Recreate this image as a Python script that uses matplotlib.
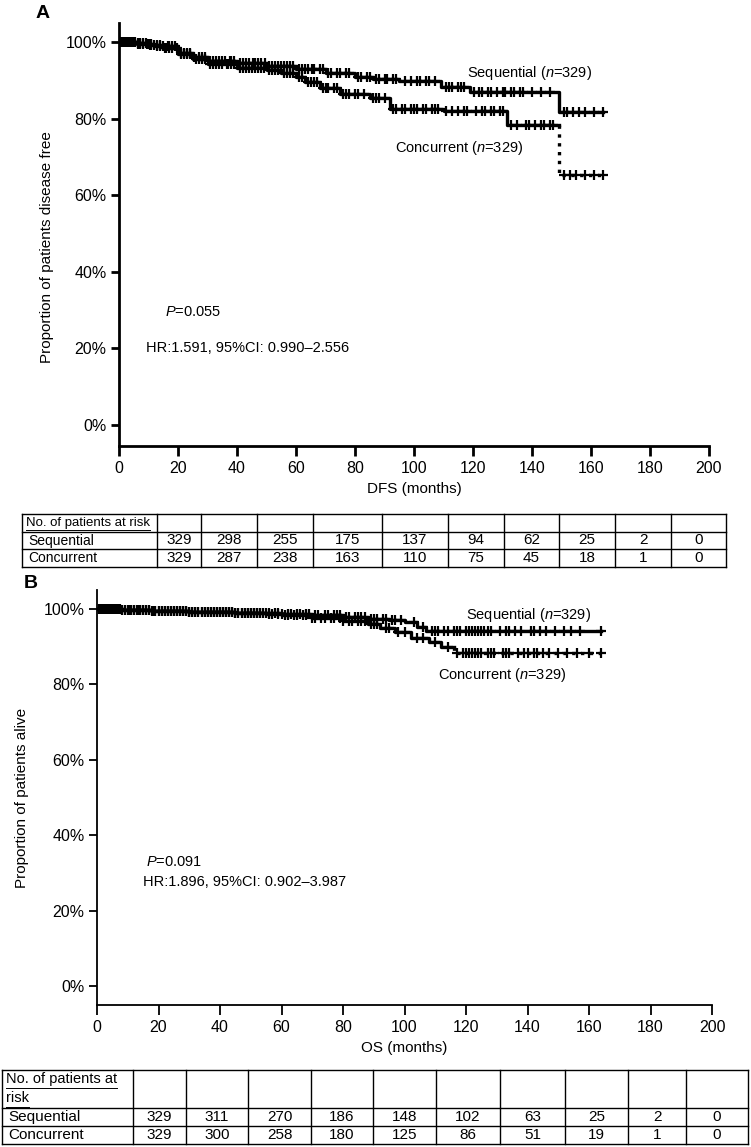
import numpy as np
import matplotlib
matplotlib.use("Agg")
import matplotlib.pyplot as plt

plt.rcParams['font.family'] = ['Liberation Sans', 'DejaVu Sans']
plt.rcParams['mathtext.fontset'] = 'custom'
plt.rcParams['mathtext.rm'] = 'Liberation Sans'
plt.rcParams['mathtext.it'] = 'Liberation Sans:italic'

W, H = 751, 1147

# ---- panel A: disease free survival (step times in months, survival %)
dfs_seq_t = [0, 6, 10, 15, 20, 25, 30, 40, 50, 60, 70, 80, 86, 95, 109, 119, 149, 164]
dfs_seq_s = [100, 99.7, 99.3, 98.5, 97.2, 96.1, 95.2, 94.5, 93.8, 93.0, 92.0, 91.0, 90.3, 89.8, 88.3, 87.0, 81.7, 81.7]
dfs_con_t = [0, 6, 12, 20, 25, 30, 40, 50, 55, 60, 63, 68, 75, 85, 92, 110, 131.5, 149, 164]
dfs_con_s = [100, 99.6, 99.0, 97.0, 95.5, 94.2, 93.2, 92.6, 92.0, 91.0, 89.5, 88.0, 86.5, 85.5, 82.6, 82.0, 78.3, 65.3, 65.3]
dfs_seq_cens = [0.5, 1, 1.5, 2, 3, 3.5, 4.5, 5.5, 6.5, 7, 8, 9, 10.5, 11, 12, 13, 14, 15.5, 16, 17,
                18, 19.5, 21, 22, 23, 24, 25.5, 27, 28, 29, 31, 32, 33, 34, 35, 36, 37.5, 38, 39,
                41, 42, 43, 44, 45.5, 46, 47, 48, 49.5, 51, 52, 53, 54, 55, 56, 57, 58, 59, 61,
                62, 63, 64, 65.5, 66, 68, 69, 71, 72, 74, 75, 77, 78, 81, 82, 84, 85, 87, 88, 90,
                91, 93, 94, 97, 99, 101, 102, 104, 105, 107, 111, 112, 113, 115, 116, 117, 120.5,
                122, 123, 125, 126, 128, 130, 131, 133, 134, 136, 137, 140, 143, 146, 151, 152,
                154, 156, 158, 161, 164]
dfs_con_cens = [0.5, 1, 2, 2.5, 3.5, 4, 5, 6.5, 7, 8, 9.5, 10, 11, 13, 14, 15, 16.5, 17, 18, 19,
                21, 22, 23, 24, 26, 27, 28, 29, 31, 32, 33, 34, 35, 36.5, 37, 38, 39, 41, 42,
                43, 44, 45, 46, 47, 48, 49, 51, 52, 53, 54, 56, 57, 58, 59, 61, 62, 64, 65, 66,
                67, 69, 70, 71, 73, 74, 76, 77, 78, 80, 81, 83, 86, 87, 88, 90, 93, 94, 96, 97,
                99, 100, 101, 103, 104, 106, 107, 108, 111, 113, 115, 117, 118, 121, 123, 124,
                126, 127, 129, 130, 133, 135, 138, 139, 141, 143, 144, 146, 147, 151, 153, 155,
                158, 161, 164]

# ---- panel B: overall survival
os_seq_t = [0, 8, 18, 30, 45, 55, 70, 80, 88, 95, 100, 104, 107, 164]
os_seq_s = [100, 99.8, 99.5, 99.2, 98.9, 98.6, 98.3, 97.8, 97.3, 97.0, 96.4, 95.3, 94.2, 94.2]
os_con_t = [0, 8, 18, 30, 45, 60, 70, 80, 88, 92, 97, 102, 108, 112, 116, 164]
os_con_s = [100, 99.8, 99.5, 99.2, 98.9, 98.4, 97.7, 96.8, 96.0, 95.0, 93.8, 92.3, 91.2, 89.8, 88.2, 88.2]
os_seq_cens = [0.5, 1, 1.5, 2, 3, 3.5, 4, 5, 5.5, 6, 7, 7.5, 9, 10, 11, 12, 13, 14, 15, 16, 17,
               18, 19, 20, 21, 22, 23, 24, 25, 26, 27, 28, 29, 30, 31, 32, 33, 34, 35, 36, 37,
               38, 39, 40, 41, 42, 43, 44, 45, 46, 47, 48, 49, 50, 51, 52, 53, 54, 56, 57, 59,
               60, 62, 63, 65, 66, 68, 69, 71, 72, 74, 75, 77, 78, 79, 81, 82, 84, 85, 86, 87,
               89, 90, 91, 93, 94, 96, 97, 99, 103, 106, 109, 110, 111, 113, 114, 116, 117, 118,
               120, 121, 122, 123, 124, 125, 126, 127, 128, 131, 133, 134, 136, 138, 141, 142,
               144, 146, 149, 152, 154, 157, 164]
os_con_cens = [0.7, 1.5, 2.5, 3, 3.5, 4.5, 5, 6.5, 7, 8, 9, 10.5, 11, 12, 13.5, 14, 15, 16, 17,
               18.5, 19, 20, 21, 22, 23, 24, 25, 26, 27, 28, 29, 30, 31, 32, 33, 34, 35, 36, 37,
               38, 39, 40, 41, 42, 43, 44, 45, 46, 47, 48, 49, 50, 51, 52, 53, 55, 56, 58, 59,
               61, 62, 64, 65, 67, 68, 70, 71, 73, 74, 76, 77, 79, 80, 82, 83, 85, 86, 87, 89,
               90, 91, 94, 95, 98, 100, 104, 106, 110, 114, 117, 119, 120, 121, 122, 123, 124,
               125, 127, 128, 129, 132, 133, 134, 137, 139, 140, 142, 143, 145, 147, 150, 153,
               156, 160, 164]

# ---- numbers at risk
risk_head = 'No. of patients at risk'
dfs_risk_seq = [329, 298, 255, 175, 137, 94, 62, 25, 2, 0]
dfs_risk_con = [329, 287, 238, 163, 110, 75, 45, 18, 1, 0]
os_risk_seq = [329, 311, 270, 186, 148, 102, 63, 25, 2, 0]
os_risk_con = [329, 300, 258, 180, 125, 86, 51, 19, 1, 0]


def rect(l, t, r, b):
    return [l / W, 1 - b / H, (r - l) / W, (b - t) / H]


def at(t, s, c):
    t = np.asarray(t)
    s = np.asarray(s)
    return s[np.searchsorted(t, c, side='right') - 1]


def km(ax, t, s, cens, cut=None, lw=2.4):
    t = np.asarray(t, float)
    s = np.asarray(s, float)
    cens = np.asarray(cens, float)
    mk = dict(color='black', ms=7, mew=1.6, ls='none', marker='+')
    if cut is None:
        ax.step(t, s, where='post', color='black', lw=lw)
        ax.plot(cens, at(t, s, cens), **mk)
    else:
        k = int(np.where(t == cut)[0][0])
        ax.step(np.r_[t[:k], cut], np.r_[s[:k], s[k - 1]], where='post', color='black', lw=lw)
        ax.plot([cut, cut, t[-1]], [s[k - 1], s[k], s[-1]], ':', color='black', lw=lw)
        ax.plot(cens, at(t, s, cens), **mk)


def style(ax, lw_spine):
    ax.set_xlim(0, 200)
    ax.set_xticks(range(0, 201, 20))
    ax.set_yticks(range(0, 101, 20))
    ax.set_yticklabels(['%d%%' % v for v in range(0, 101, 20)])
    for sp in ['top', 'right']:
        ax.spines[sp].set_visible(False)
    ax.spines['left'].set_linewidth(lw_spine)
    ax.spines['bottom'].set_linewidth(lw_spine)
    ax.tick_params(axis='y', length=6, width=lw_spine, labelsize=11.5, pad=3)
    ax.tick_params(axis='x', length=7, width=lw_spine, labelsize=11.5, pad=4)


fig = plt.figure(figsize=(W / 100, H / 100), dpi=100)

# ----- panel A
axA = fig.add_axes(rect(119, 23, 709, 446))
axA.set_ylim(-5.5, 105)
km(axA, dfs_seq_t, dfs_seq_s, dfs_seq_cens)
km(axA, dfs_con_t, dfs_con_s, dfs_con_cens, cut=149)
style(axA, 2.0)
axA.set_xlabel('DFS (months)', fontsize=11, labelpad=4)
axA.set_ylabel('Proportion of patients disease free', fontsize=11)
axA.yaxis.set_label_coords(-0.11, 0.47)
axA.text(118, 91.9, 'Sequential ($\\it{n}$=329)', fontsize=10.5, va='center')
axA.text(93.5, 72.3, 'Concurrent ($\\it{n}$=329)', fontsize=10.5, va='center')
axA.text(15.5, 29.5, '$\\it{P}$=0.055', fontsize=10.5, va='center')
axA.text(9, 20, 'HR:1.591, 95%CI: 0.990\u20132.556', fontsize=10.5, va='center')

# ----- panel B
axB = fig.add_axes(rect(97, 590, 712, 1005))
axB.set_ylim(-5, 105)
km(axB, os_seq_t, os_seq_s, os_seq_cens)
km(axB, os_con_t, os_con_s, os_con_cens, cut=116)
style(axB, 1.3)
axB.set_xlabel('OS (months)', fontsize=11, labelpad=4)
axB.set_ylabel('Proportion of patients alive', fontsize=11)
axB.yaxis.set_label_coords(-0.11, 0.5)
axB.text(120, 98.5, 'Sequential ($\\it{n}$=329)', fontsize=10.5, va='center')
axB.text(111, 82.5, 'Concurrent ($\\it{n}$=329)', fontsize=10.5, va='center')
axB.text(16, 33, '$\\it{P}$=0.091', fontsize=10.5, va='center')
axB.text(15, 27.5, 'HR:1.896, 95%CI: 0.902\u20133.987', fontsize=10.5, va='center')

# ----- overlay in pixel units for letters and tables
ov = fig.add_axes([0, 0, 1, 1])
ov.set_xlim(0, W)
ov.set_ylim(H, 0)
ov.axis('off')
ov.text(36, 13, 'A', fontsize=14, fontweight='bold', va='center')
ov.text(24, 583, 'B', fontsize=14, fontweight='bold', va='center')


def table(cols, rows, seq, con, head_lines, head_fs, num_fs):
    x0, x1 = cols[0], cols[-1]
    for y in rows:
        ov.plot([x0, x1], [y, y], color='black', lw=1.0)
    for x in cols:
        ov.plot([x, x], [rows[0], rows[-1]], color='black', lw=1.0)
    # header text, underlined
    hy0, hy1 = rows[0], rows[1]
    n = len(head_lines)
    for i, line in enumerate(head_lines):
        yy = hy0 + (hy1 - hy0) * (i + 0.5) / n
        tx = ov.text(x0 + 4, yy, line, fontsize=head_fs, va='center', ha='left')
        fig.canvas.draw()
        bb = tx.get_window_extent().transformed(ov.transData.inverted())
        ov.plot([bb.x0, bb.x1], [bb.y0 + 1, bb.y0 + 1], color='black', lw=0.7)
    labels = ['Sequential', 'Concurrent']
    for r, (lab, vals) in enumerate(zip(labels, [seq, con])):
        yy = (rows[r + 1] + rows[r + 2]) / 2
        ov.text(x0 + 6, yy, lab, fontsize=head_fs + 0.5, va='center', ha='left')
        for j, v in enumerate(vals):
            xc = (cols[j + 1] + cols[j + 2]) / 2
            ov.text(xc, yy, str(v), fontsize=num_fs, va='center', ha='center')


colsA = [22, 157, 201, 257, 313, 382, 448, 504, 559, 615, 671, 726]
rowsA = [514, 532, 549, 567]
table(colsA, rowsA, dfs_risk_seq, dfs_risk_con, [risk_head], 9.5, 11)

colsB = [2, 133, 186, 248, 311, 373, 436, 500, 565, 628, 686, 748]
rowsB = [1070, 1108, 1126, 1144]
table(colsB, rowsB, os_risk_seq, os_risk_con, ['No. of patients at', 'risk'], 10.5, 11)

fig.savefig('out.png', dpi=100)
